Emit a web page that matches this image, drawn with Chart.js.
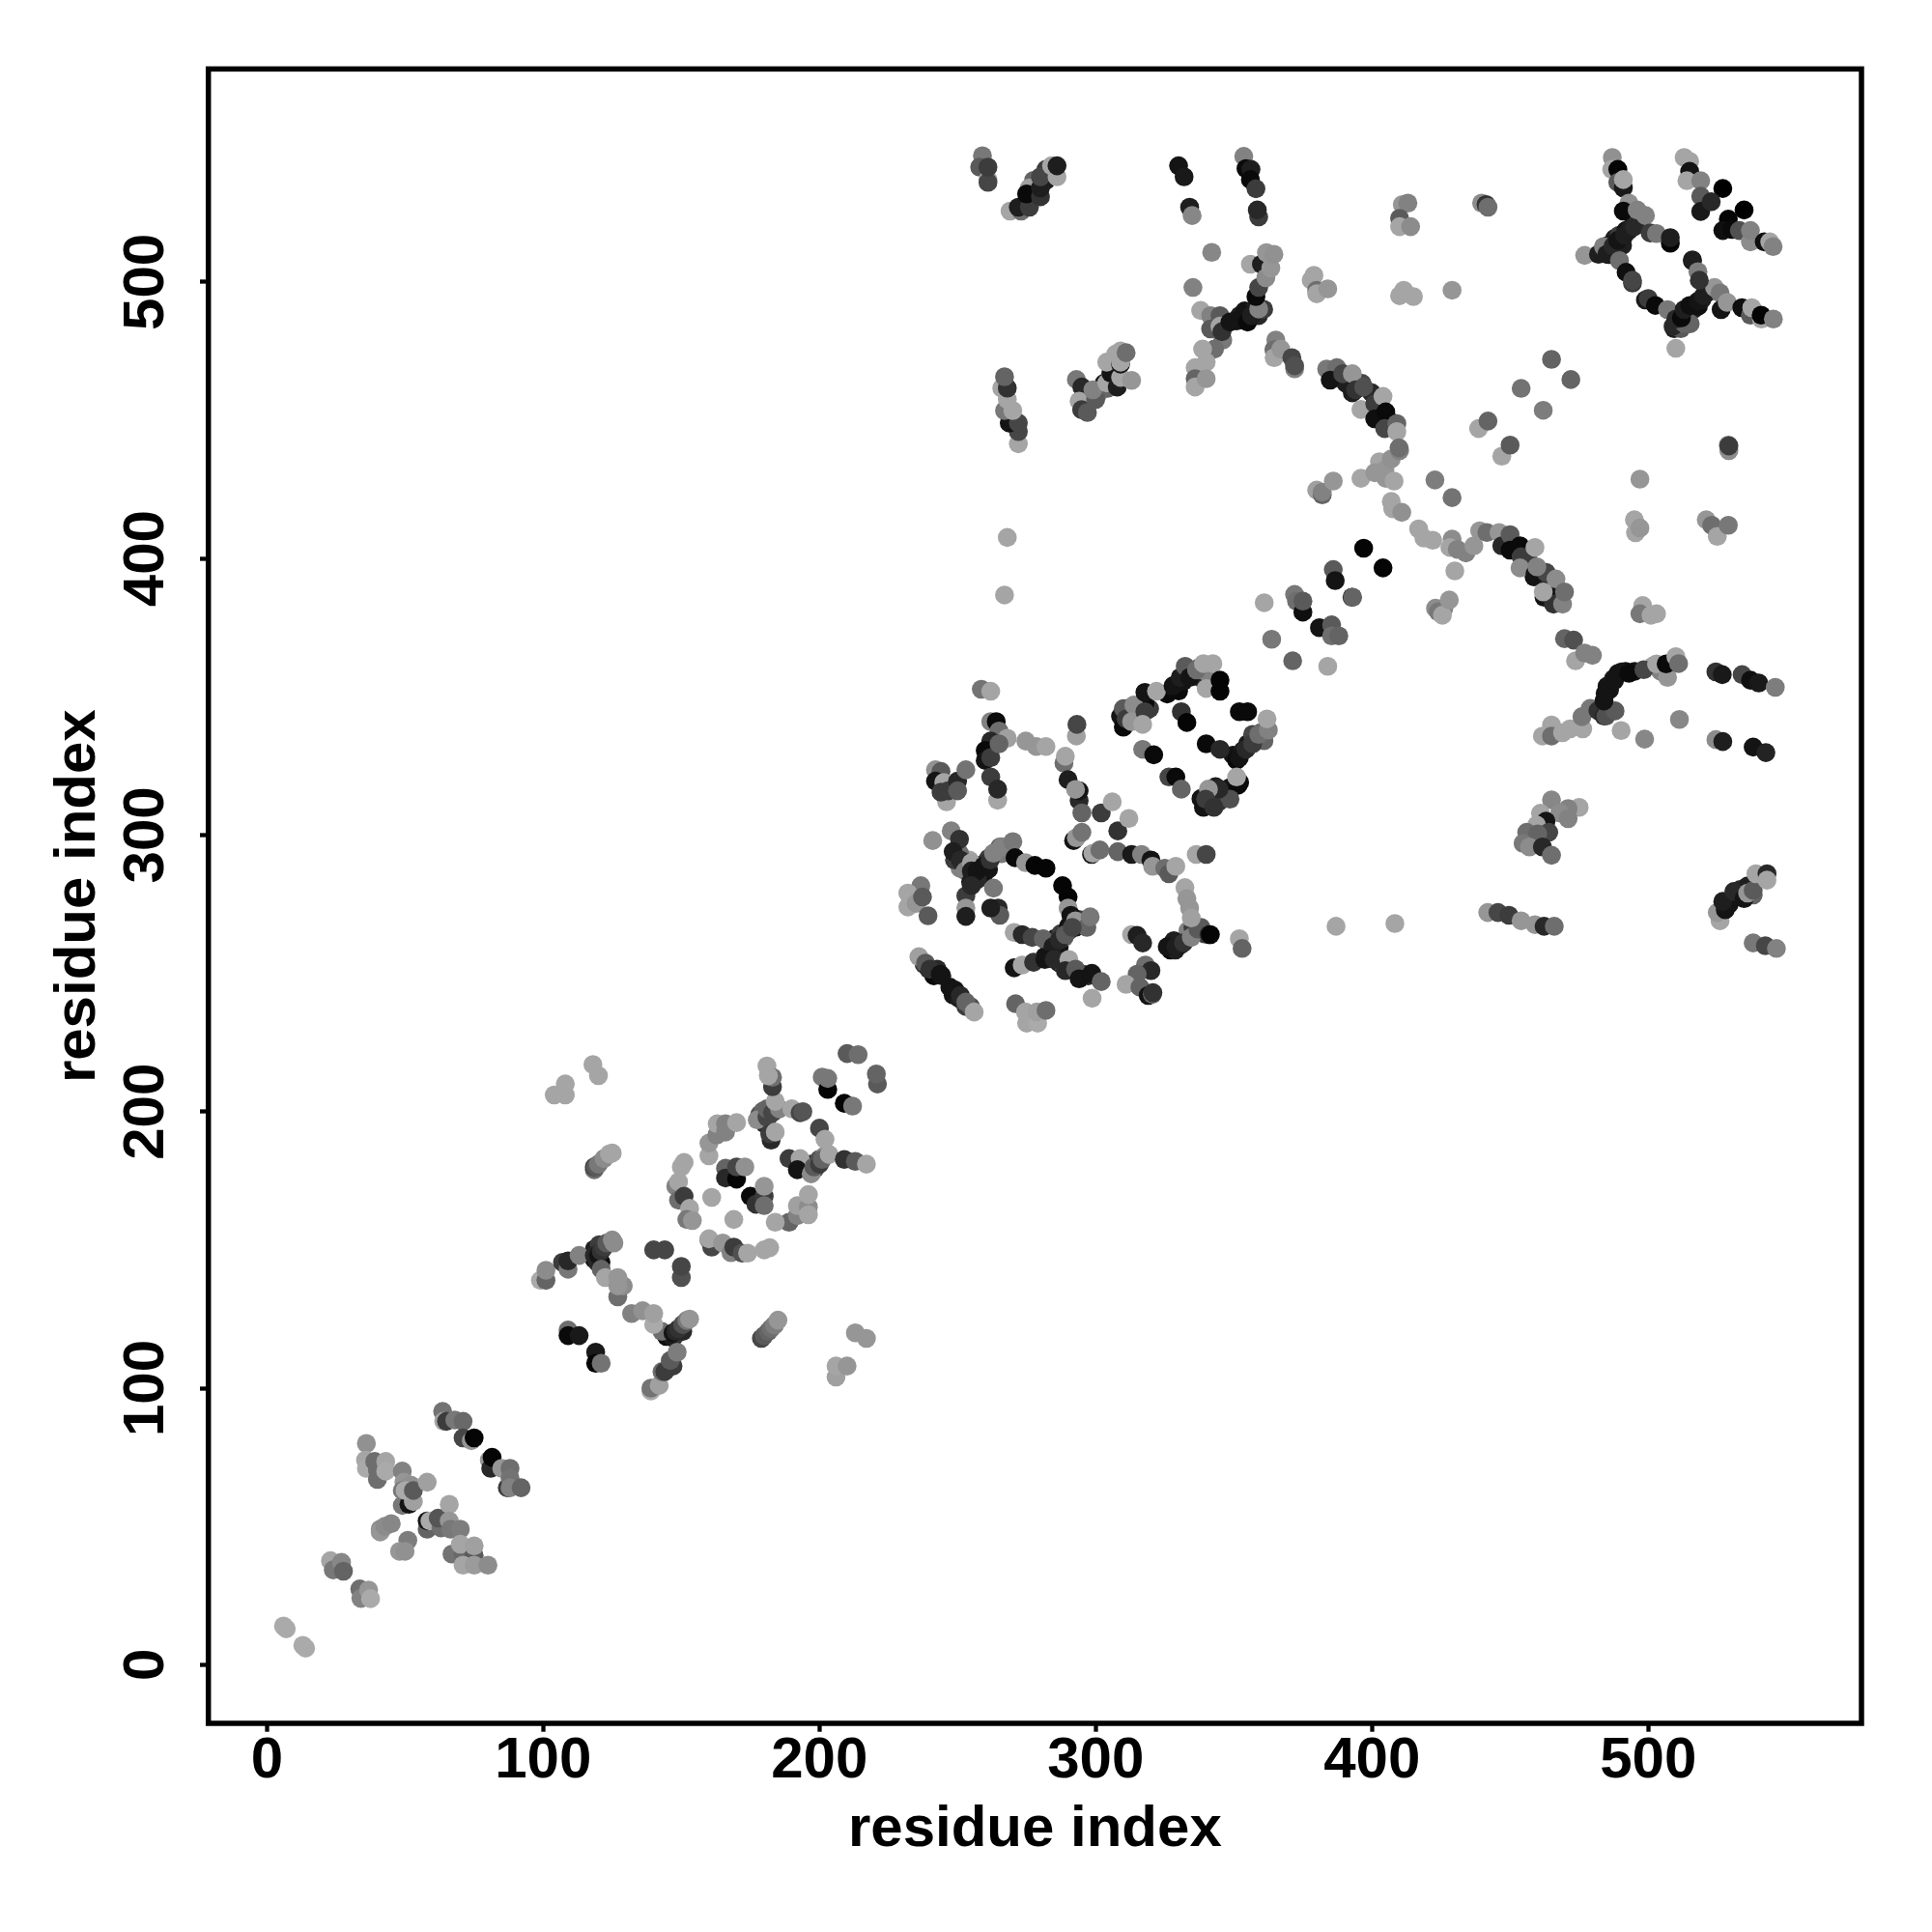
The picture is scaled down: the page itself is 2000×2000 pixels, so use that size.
<!DOCTYPE html>
<html><head><meta charset="utf-8">
<script src="https://cdn.jsdelivr.net/npm/chart.js@4"></script>
<style>html,body{margin:0;padding:0;background:#fff}canvas{display:block}</style>
</head><body><canvas id="c" width="2000" height="2000"></canvas>
<script>
// Each contact: [residue i, residue j, grey level]
const domainA=[[6,14,170],[7,13,170],[13,7,170],[14,6,170],[23,37.6,165],[24,34.3,120],[27,37,135],[27.7,33.8,100],[33.6,27.4,110],[34,24,130],[36.8,27,150],[37.5,23.9,170],[36,80,145],[35.7,74,165],[36,71,170],[39,73.5,110],[40,70.4,110],[40,67,110],[43,73.5,165],[43,70,170],[49,70,130],[49.6,66,150],[52,65,145],[49,63,120],[49,57.6,120],[51.4,58,20],[53,59,160],[50,63,170],[53,63,90],[58,66,160],[41,49,140],[41,48,150],[42.7,50,140],[45,51,135],[51,45,125],[48,41,150],[50,41,145],[63.6,91.6,115],[64,88,165],[65,88,60],[68,88.5,120],[71,88,105],[71,82,70],[74,81,150],[75,82,5],[80.5,74,150],[81,71,40],[81.5,75,5],[85,71,150],[87,64,60],[88,71,110],[88,67.5,115],[88,64,130],[92,64,100],[58,49,100],[58,52,20],[59,52,170],[63,49.5,110],[62,53,85],[66,58,165],[66,52,150],[66.5,49,120],[70,49,125],[67,40,115],[71,40,105],[70,43.6,165],[75,39.5,90],[75,43,160],[71,36,165],[75,36,155],[80,36,140]];
const domainB=[[109,121,110],[109,119,10],[113,119,25],[119,113,25],[119,109,5],[121,109,115],[139,99,170],[139,100,115],[142,101,160],[143,106,110],[144,106,60],[147,108,60],[146,110,90],[148.5,113,125],[143,120.5,110],[147,120,20],[148,120.5,40],[149,121.5,50],[150.5,123,80],[152,124.5,120],[153,125,150],[132,127,130],[136,128,145],[140,123,170],[140,127,160],[99,139,170],[101,139,100],[101,142.6,140],[107,145.5,60],[109,143,120],[109,146,40],[113,148,130],[118.5,148,40],[120,148,20],[121,149.6,50],[122,151,60],[123,152.5,90],[125,153.6,140],[125.6,152.5,140],[121,143,100],[122.5,140,165],[127,133,110],[129,137,140],[127,140,150],[127,137,150],[140,150,70],[144,150,70],[150,140,80],[150,144,70],[118,217,165],[120,213,165],[104,206,165],[108,206,165],[108,210,165],[118.5,179,110],[118.5,180,60],[119,180,90],[120,181,120],[122,183,140],[124,184.7,165],[125,185,165],[179,118,70],[180,119,90],[181.5,120.5,100],[182.5,121.6,110],[183.7,122.8,125],[185,124.6,150],[213,120,150],[217,118,150],[206,104,160],[206,108,165],[210,108,150]];
const domainC=[[160,184,165],[160,188.6,150],[162.8,191.5,130],[163,195.6,165],[166,192.6,130],[166,195.6,130],[170,196,165],[150,180,165],[151,181.6,165],[148,173,130],[149,174.6,165],[149,168,110],[151,169.4,60],[153,165,165],[152,161,120],[154,160.6,150],[161,169,165],[169,161,165],[160,153.6,100],[161,151,70],[160,154,165],[165,152.5,150],[168,149,130],[169,151,60],[172,148.8,80],[174,148.8,165],[180,150,165],[182,150.8,165],[189,160,100],[184,160,165],[192,162.4,130],[192,166,160],[196,165.5,140],[196,162.7,165],[196,170,165],[166,179.5,100],[166,176,40],[170,175.6,5],[170,180,70],[173,180,145],[175,169.4,10],[177,166.5,50],[180,169.4,60],[180,166,110],[180,173,150],[177.5,197,140],[181,198,70],[181,201,100],[183,199.6,70],[182.5,189.7,40],[182,192,60],[184,192.6,165],[185.5,201,130],[184,203.7,165],[190,201,165],[193,199.6,70],[194,200,85],[181,216.5,165],[183,209,60],[183,212.4,110],[181.5,213,165],[200,194,70],[202,190,165],[189,183,60],[193,183,165],[192,179,20],[197,177.5,140],[198,180,90],[200,181,60],[201,182.7,100],[203.5,184.5,165],[209,182.7,50],[213,182,90],[217,181,165],[201,212.5,120],[203,208,5],[203,212,120],[209,203,5],[212,202,120],[210,221,90],[214,220.6,110],[221,210,90],[220.6,213.6,100]];
const domainD=[[258.6,352.7,115],[262,352,165],[293,335.8,160],[293.2,340,70],[242,323.6,145],[244,323,90],[242,319.5,20],[245,319,165],[246,312,165],[244,315.5,60],[246.6,316,60],[250,319.5,40],[250,316,90],[253,323.6,115],[262,341,130],[264,341,10],[265,337.6,110],[268,335,160],[262,334,40],[260,330.6,10],[260,327,20],[262,328,60],[265,333,100],[262,321,60],[264.5,312.6,165],[264.5,316.6,40],[274.7,334,150],[278.5,332,150],[282,332,165],[288.5,326,110],[289,328.5,165],[290,320,30],[294,312.5,40],[294,316,20],[292.7,316.5,150],[295,308,100],[292,298,20],[293,299,150],[295,301,115],[302,308,60],[306,312,165],[308,301.5,50],[312,306,165],[298.5,293,30],[299,293.4,165],[301.5,294.6,110],[308,294,100],[313,293,25],[316.6,293,130],[320,291,20],[320.6,288.7,150],[325,288,110],[326.5,286,90],[329,288.7,165],[336.4,293,165],[340,293,70]];
const domainE=[[310,345.7,90],[310,339,10],[311,342,60],[313.8,347,140],[313,341,150],[317.8,351.6,20],[317.8,344.6,60],[317,340,165],[322,352,165],[328,354,20],[330.6,357,30],[332.4,361,90],[334,357,20],[336.5,359.7,110],[340,353,165],[339,362,165],[342.4,362,165],[345,356,5],[345,352,5],[331,344.6,50],[333,340.7,5],[317,331,120],[321,329,10],[326.5,321,70],[329,321,10],[331,316.6,100],[352,344.6,10],[355,344.6,10],[351,327,10],[352,328,20],[354.4,331,40],[356.8,333,60],[359,336.4,110],[362.5,338,130],[362,342,165],[340,333,10],[345,331,40],[351.5,318,10],[351,321,165],[348.6,313,80],[344.6,316.6,40],[340.8,316.6,150],[339,310,20],[339.8,313,60],[342.8,310,50]];
const domainF=[[241,298,145],[247.7,301.5,130],[250.7,298.5,50],[248.4,294,30],[251,291,40],[252.8,287,130],[254.7,283,30],[255,290,160],[255,287,30],[257,287,20],[259.5,288.9,20],[261.8,291,50],[263,293.4,130],[266,295.8,130],[270,297.6,120],[270.8,291.8,10],[274.6,290,150],[278,289,5],[282,288,5],[288,281.7,5],[290,277.6,5],[290,273.6,150],[291,271,20],[290.1,267,20],[292.7,269,150],[296.8,266.6,100],[298,270.4,120],[236.7,281.7,120],[232,279,165],[232,274,165],[235,275.3,150],[237.3,277.6,90],[239.3,270.8,90],[263,280.8,120],[264.7,273.6,40],[265.3,271,90],[262,273.6,30],[253,278,60],[255,281.7,40],[253,273.6,150],[253,270.6,30],[270.5,264.8,165],[273.4,264,40],[277,263,70],[281,262.5,100],[284.5,259.6,30],[286.8,262,40],[289,264,90],[291.5,266.6,70],[270.5,252,20],[273.4,253,165],[277.5,254,50],[281.6,255,20],[285,255,40],[290.3,255,165],[289,251,40],[292.7,251.5,90],[294,248,20],[298.6,250,20],[302,247,100],[298.7,241,165],[313,264,165],[315,263.7,30],[317,261,40],[325.9,259.6,20],[329,259.6,30],[331.8,261,50],[334.6,263,130],[337,266,90],[341,264,50],[341.5,264,5],[332.3,281,165],[333,277,150],[334,273.6,150],[334.6,270,160],[352,262.5,165],[353,259,100],[318,253,110],[320,251,40],[315,249.7,100],[311,246,165],[316,245,100],[319,242,20],[320.5,242.4,100],[320.7,243,50],[236,256,160],[238.4,253.7,90],[240,251.5,50],[243.7,249.7,20],[249,244,20],[251,242,40],[253,239.6,100],[256,236,165],[271,239,100],[274.6,236,165],[275,232,165],[279,232,170],[278.7,236,160],[282,236.6,110]];
const domainG=[[361,384,165],[372,387,120],[372.7,384.6,110],[375,380.6,15],[375,384.6,90],[363.7,370.8,120],[371.3,363,100],[384,361,165],[381,375,20],[385.4,376,90],[385.4,372,110],[388,372,100],[386,396,90],[386.7,392,20],[392.8,386,15],[393,386,100],[397,403.7,5],[404,396.6,5],[422.8,428.4,125],[429,422,115],[380,424.7,160],[382,423,100],[382,424,130],[386,428,150],[396,429,165],[402.7,435,165],[401,431,150],[404.7,432,150],[407,436,145],[405,429,150],[408,428,165],[410,439,130],[407,420.6,165],[407.5,418,165],[410.8,416.7,145],[416.9,410.7,165],[418.8,407.4,165],[422,406.6,165],[429,407,140],[428.2,404,165],[430.9,403.3,130],[434,402,130],[430,395.5,165],[436.9,404.6,150],[439,410,150],[441.6,409.4,110],[446,409.4,150],[447,404.6,40],[450,408.6,90],[450,403,10],[453.6,404.6,10],[454,400.6,60],[453.6,396.6,140],[459,394.5,20],[463,395,70],[459.7,397,130],[459,404,165],[466.6,392.6,140],[462.3,386,20],[465.7,383.5,50],[462,387.9,165],[469,383.5,130],[469.7,387.9,110],[426,382,130],[423,382,140],[424,380.7,120],[425.5,379.5,165],[428,385,150],[469.7,371,100],[473,370.5,80],[473.7,363,165],[477,365.8,130],[479.8,365,130]];
const domainH=[[461.7,335.8,165],[465,339.8,165],[465,335.8,110],[469,337,165],[471.7,338.4,165],[476.3,338.4,165],[476,342.8,120],[479,345.8,120],[481.8,345,50],[484,343,40],[484.7,343,80],[488,344.9,90],[490.2,337.8,165],[498.7,334.7,135],[511.3,341.8,135],[484,348.5,20],[486,352.5,20],[487.8,355.9,20],[490.4,359,20],[493,358.5,10],[498.4,359.8,70],[503,361.9,165],[507,357,150],[506.5,361.9,10],[510,364.5,165],[511,362,110],[524.5,359,50],[526.8,358,25],[534,358,70],[537,356,15],[540,355,25],[546,353.4,125],[524.5,334.5,140],[527,333.8,30],[538,331.8,20],[542.6,329.8,35],[465,312.7,135],[475,310,165],[471,309.6,130],[468,308,140],[461,307.9,165],[471,305.9,130],[463,305,20],[459.6,303.6,165],[456,301,110],[464,301,70],[460,300.4,100],[454.7,297,120],[457,295.7,140],[461.7,295.7,40],[465,292.7,110],[387,267,165],[408.3,268,165],[441.9,272,150],[445.6,272,70],[449.6,271,60],[454,269,150],[459,267.6,150],[462.3,267,40],[466,267,110],[526,269,165],[525,272,150],[527.9,273,20],[527,276,30],[531,279.6,40],[534.7,277,20],[536,279,150],[538,280,90],[539,286,165],[543,286,40],[543,283.7,165],[538,261,120],[542.4,260,70],[546.4,259,130]];
const domainI=[[259,545.6,120],[258,541.5,90],[261,537,165],[261,536,70],[261,541.5,60],[269,525.6,165],[273,525.6,110],[272,527,30],[276,527,60],[276,534,160],[275,531.8,10],[280,530.8,50],[280,534,30],[280,538,70],[284,542,165],[286,538,165],[286,542,30],[330,542,20],[332,538,25],[334,527,30],[334.9,524,135],[353.6,545.4,130],[354.4,541,10],[356.2,540.7,30],[356,537,10],[358,533.7,60],[359,523.5,60],[358.5,526,40],[342,510.7,135],[335.2,498,130],[338,489.7,165],[341.6,487.8,130],[345,487.8,90],[341.6,483,90],[345,484,165],[346,479,120],[343,475.7,110],[338.7,475.7,165],[345.7,482,50],[348.6,485.5,20],[354,487.8,20],[355,485.5,10],[356.4,487.8,30],[359,490.2,130],[358,494.7,10],[359,498,70],[356,506.4,165],[360,506.4,30],[361.6,501.5,140],[363.4,505,150],[361.8,510.6,150],[364.5,510,145],[336,469,165],[340,471,165],[336,465,100],[336,462,165],[340,465,150],[379,502.4,165],[378,500.7,165],[380,497,110],[380,495.7,165],[384,497.5,150],[365.2,479,130],[364.5,475.5,110],[364.6,472.6,165],[367,475.7,150],[371,472.6,70],[372,468.6,130],[372,469.7,80],[272,441.5,165],[272,445.9,70],[268.7,449,20],[272,449,70],[267,453.5,120],[270,453.5,165],[268,457.5,165],[266,461.6,165],[268,461.6,50],[267,465.7,100],[293,464.7,120],[295,462,40],[294,456.9,165],[294.9,453.8,60],[297,452.8,90],[300,457.5,90],[299,461,130],[304,463.5,165],[305.5,467,20],[307.8,462,30],[304,471,165],[309,465.5,165],[309,470.3,20],[309,471,165],[309,475,165],[311,474.4,110],[313,464.4,150],[268,407.6,165],[267,386.8,165],[383.6,468.5,120],[387.3,469,110],[384.9,464.5,20],[389.4,466.8,70],[392.9,466.8,150],[394.1,461,50],[397,462,80],[396,453.9,165],[401,456,60],[401,450.5,15],[404,458.6,165],[405,453,10],[404.6,447,70],[409,448.8,100],[409,445.9,165],[409.8,440,110]];
const domainJ=[[487,545,145],[486.8,540.7,165],[489,540.7,5],[489,536,90],[491,534,25],[491,537,165],[513,545,165],[515,543.6,165],[515,540,20],[514,536.6,165],[519,536.6,130],[527,533.8,0],[534.7,526,0],[519,531,90],[519,525.5,25],[522.8,529,40],[529,522.7,5],[527,518.6,15],[530.4,519,10],[533,518.6,80],[537,514.5,140],[537,518.6,130],[542,514.5,15],[544,514.5,165],[545.2,512.8,130],[477,509.6,150],[482,510,30],[483.8,512.8,130],[485,510,30],[487.3,513,40],[489,515,20],[491.4,516.9,30],[493,518.6,30],[495,520,40],[493,528.5,145],[491,525.6,10],[496,526,130],[499,524,130],[500.7,517.7,60],[503,517.5,120],[508,514,5],[508,516,30],[489.6,507.7,110],[492,503.5,15],[494.3,499.6,60],[494.3,500.6,70],[499,493.5,25],[500,494,60],[502.6,491.5,10],[507,490,120],[510,476,165],[509,484,40],[513,485,100],[510,486.6,40],[512,487,10],[513,490,30],[515,491.5,15],[518,493,20],[520,495,30],[524,498,150],[526,496,120],[526.4,490,20],[528.6,492.6,150],[516,507.6,15],[516,508,30],[518,503.7,125],[518.5,500.6,50],[533.9,490.7,15],[537,488,90],[537.5,490.7,165],[541,486.6,165],[540.9,488,5],[545.3,486.6,130]];
const domainK=[[411,528,150],[413,528.5,130],[410,523,90],[410,520,165],[414,520,140],[439.7,528.5,140],[441.3,528,50],[442,527,110],[410,495,165],[411.5,497,165],[415,494.7,165],[429,497,150],[465,472,100],[472,464.7,100],[454,461.5,115],[462,453.6,125],[438.6,447,165],[442,449.7,100],[447,437,165],[450,441,90],[497,428.7,150],[495,414,165],[495.4,409.3,165],[497,411,150],[498,383,165],[497,380,120],[501,379.5,165],[503,380,165],[521,414,150],[523,412,110],[525,408,165],[529,412,120],[529.2,439,140],[529,441,120],[529.2,440.7,60]];
const denseTop=[[483.2,511.1,40],[485.5,513.2,25],[487.8,515.7,30],[489.5,516.9,60],[491.9,518.6,20],[494.3,520.4,30],[496,521.5,70],[490.7,513.2,30],[485.8,509.9,25],[509.4,483.1,30],[511.2,485.4,20],[512.9,486.6,30],[514.7,488.4,20],[516.5,490.1,30],[518.2,491.3,15],[519.4,493.6,30],[521.1,495.9,40],[511.8,483.1,90],[515.2,484.9,100],[353.3,486.6,20],[352.1,487.8,30],[353.9,489.5,20],[355.6,488.3,15],[357.4,490.1,30],[358.9,487.8,40],[360.8,490.1,60],[351,485.9,20],[347.4,485,30],[275.8,529.7,30],[277.5,530.3,20],[278,533.8,20],[282,536.7,30],[277.5,536.7,100],[273.9,527.4,40],[282,540.7,60],[296.7,455.2,60],[297.5,457.5,110],[301,459.8,130],[303,463.3,20],[304.3,461.5,100],[306.6,465.6,40],[306.2,469,130],[308,467.8,20],[307.2,473.9,165],[390.6,463.3,30],[392.9,459.9,30],[396.4,463.3,70],[399.9,459.9,40],[402,452.8,20],[407,449.3,50]];
const denseMiddle=[[325.9,351,10],[328.2,353.3,20],[330,352.1,10],[331.7,355.6,20],[333.4,359.1,100],[335.2,357.4,30],[337,360.3,100],[338.1,356.8,40],[339.9,359.1,130],[349.7,328.9,20],[353.3,330.6,30],[355,333,30],[357.9,334.7,60],[359.7,337,90],[360.9,334.1,100],[356.8,336.4,70],[309,343,20],[311.3,345.7,50],[314.8,343.4,30],[319.5,345.7,60],[317.8,347.5,10],[341.6,314.3,40],[344.5,312,50],[346.3,315.5,60],[348.6,317.2,20],[352.1,319,10],[338.1,313.2,20],[343.4,317.5,30],[257.1,287.6,30],[258.9,289.3,30],[261.2,287.6,20],[262.9,293.3,100],[265.9,293.3,120],[259.4,285.8,20],[257.1,283.9,40],[265.3,295.7,100],[261.2,291.6,60],[250.9,288,130],[248.9,291,60],[254.2,291,165],[250.7,293.4,110],[286.8,259.6,20],[288.6,263,100],[285.1,262.5,10],[287.3,264.3,60],[290.3,265.4,90],[293.8,269.5,60],[292.7,266.6,30],[294,268.3,70],[283.3,257.9,20],[285.7,255.5,20],[286.8,253.8,30],[288.6,252.6,100],[291,251.5,60],[295.6,249.7,60],[297.3,249.1,40],[281.6,256.1,20],[327.1,258.4,10],[328.8,258.4,30],[330.6,260.2,20],[332.9,262.5,50],[333.4,265.4,130],[335.2,266.6,60],[338.1,266.6,90],[339.3,264.3,60],[328.3,261.8,30],[237.9,253.2,60],[239.6,251.5,30],[241.4,249.1,10],[242.6,251.5,40],[244.3,249.1,30],[247.2,245,20],[248.4,242.1,20],[250.6,240.9,30],[253,238,60],[254.7,238,80]];
const denseRight=[[484.4,351.2,20],[485.1,353.8,20],[487.4,356.5,30],[489.1,358.5,20],[491.8,359.2,15],[483.8,347.1,20],[482.4,345.1,40],[484.4,343.8,60],[495.1,359.2,20],[501.8,361.2,165],[504.5,359.2,130],[451.6,404.6,10],[457,398.6,60],[458.7,393.3,20],[463.7,389.9,40],[465,387.3,20],[529.3,275,20],[533.3,280.3,40],[536,281.6,30],[538,278.3,100]];
const denseLower=[[144.6,118.7,15],[147,118.2,30],[148.7,119.9,60],[150.5,120.5,40],[151,123.4,100],[118.4,146.7,20],[119.6,145.5,40],[120.9,145.5,10],[118.5,150.2,30],[120.3,151.9,60],[178.4,199,80],[179.6,200.2,100],[181.4,198,60],[183.7,200.2,120],[180.2,195.6,40],[197.1,181,40],[198.3,179.3,70],[200,182.8,80],[201.7,183.9,140]];
const tickValues=[0,100,200,300,400,500];
const axisTitle="residue index";
const domains=[domainK,domainJ,domainI,domainH,domainG,domainF,domainE,domainD,domainC,domainB,domainA,denseTop,denseMiddle,denseRight,denseLower];
const grey=v=>`rgb(${v},${v},${v})`;
const F="'Liberation Sans',Arial,sans-serif";
const font={family:F,size:60,weight:'bold'};
const axisCommon={
  type:'linear',min:-21.2,
  border:{display:false},
  grid:{drawOnChartArea:false,drawTicks:true,tickLength:8.7,tickWidth:4.3,tickColor:'#000'},
  title:{display:true,text:axisTitle,color:'#000',font:{family:F,size:60,weight:'bold'}}
};
const box={id:'box',afterDraw(ch){const a=ch.chartArea,c=ch.ctx;c.save();c.strokeStyle='#000';c.lineWidth=5.5;c.strokeRect(a.left,a.top,a.right-a.left,a.bottom-a.top);c.restore();}};
new Chart(document.getElementById('c'),{
  type:'scatter',
  data:{datasets:domains.map(d=>({
    data:d.map(p=>({x:p[0],y:p[1]})),
    backgroundColor:d.map(p=>grey(p[2])),
    borderWidth:0,pointRadius:9.8,pointHoverRadius:9.8,clip:false
  }))},
  options:{
    responsive:false,animation:false,
    layout:{padding:{left:0,top:71.4,right:73,bottom:0}},
    plugins:{legend:{display:false},tooltip:{enabled:false}},
    scales:{
      x:{...axisCommon,max:577.2,
        afterBuildTicks:s=>{s.ticks=tickValues.map(v=>({value:v}));},
        ticks:{color:'#000',font,padding:-5,maxRotation:0,autoSkip:false},
        title:{...axisCommon.title,padding:{top:0,bottom:70}},
        afterFit:s=>{s.height=216;}},
      y:{...axisCommon,max:577,
        afterBuildTicks:s=>{s.ticks=tickValues.map(v=>({value:v}));},
        ticks:{color:'#000',font,padding:4,minRotation:90,maxRotation:90,crossAlign:'center',autoSkip:false},
        title:{...axisCommon.title,padding:{top:45,bottom:0}},
        afterFit:s=>{s.width=215.7;}}
    }
  },
  plugins:[box]
});
</script></body></html>
